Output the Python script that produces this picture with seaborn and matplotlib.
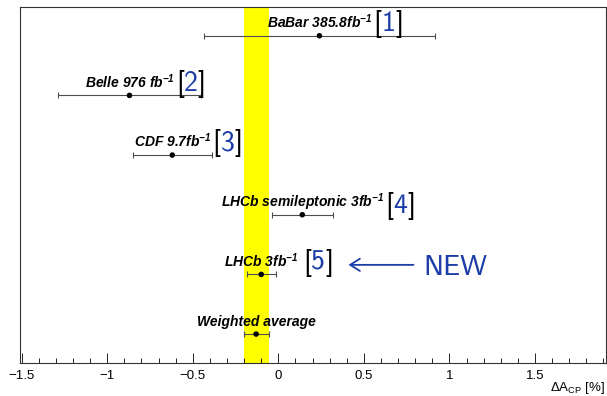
import matplotlib
matplotlib.use("Agg")
import matplotlib.pyplot as plt
from matplotlib.ticker import MultipleLocator
import seaborn as sns
import pandas as pd

# ---- data ----
labels = ["BaBar 385.8fb$^{\\mathbf{-1}}$", "Belle 976 fb$^{\\mathbf{-1}}$", "CDF 9.7fb$^{\\mathbf{-1}}$",
          "LHCb semileptonic 3fb$^{\\mathbf{-1}}$", "LHCb 3fb$^{\\mathbf{-1}}$", "Weighted average"]
refs = ["1", "2", "3", "4", "5", ""]
values = [0.24, -0.87, -0.62, 0.14, -0.10, -0.13]
errors = [0.675, 0.415, 0.23, 0.18, 0.085, 0.073]
rows = [6, 5, 4, 3, 2, 1]
tick_values = [-1.5, -1, -0.5, 0, 0.5, 1, 1.5]
tick_labels = ["\u22121.5", "\u22121", "\u22120.5", "0", "0.5", "1", "1.5"]
xlabel = "\u0394A$_{\\mathrm{CP}}$ [%]"
new_text = "NEW"

df = pd.DataFrame({"label": labels, "ref": refs, "value": values, "err": errors, "row": rows})

sns.set_theme(style="ticks")
plt.rcParams["font.family"] = ["Liberation Sans", "DejaVu Sans"]
plt.rcParams["mathtext.fontset"] = "custom"
plt.rcParams["mathtext.rm"] = "Liberation Sans"
plt.rcParams["mathtext.it"] = "Liberation Sans:italic"
plt.rcParams["mathtext.bf"] = "Liberation Sans:bold:italic"
plt.rcParams["text.color"] = "black"
plt.rcParams["axes.labelcolor"] = "black"
plt.rcParams["xtick.color"] = "black"
plt.rcParams["xtick.labelcolor"] = "black"

blue = "#1c3ca8"
ref_gaps = [1.0, 1.0, 1.0, 1.0, 3.5, 1.0]

fig = plt.figure(figsize=(6.07, 3.96), dpi=100)
ax = fig.add_axes([20 / 607, 1 - 363.3 / 396, 586 / 607, (363.3 - 6.5) / 396])

wa_v = df["value"].iloc[-1]
wa_e = df["err"].iloc[-1]
ax.axvspan(wa_v - wa_e, wa_v + wa_e, color="#ffff00", lw=0, zorder=0.5)

ax.errorbar(df["value"], df["row"], xerr=df["err"], fmt="none", ecolor="#4d4d4d",
            elinewidth=0.8, capsize=2, capthick=0.8, zorder=2)
sns.scatterplot(data=df, x="value", y="row", color="black", s=16, edgecolor="none",
                zorder=3, ax=ax, legend=False)

for i, r in df.iterrows():
    t = ax.annotate(r["label"], xy=(r["value"], r["row"]), xytext=(0, 5.5),
                    textcoords="offset points", ha="center", va="baseline",
                    fontsize=10, fontweight="bold", fontstyle="italic",
                    family="Liberation Sans", color="black", zorder=4)
    if r["ref"]:
        b1 = ax.annotate("[", xy=(1, 0), xycoords=t, xytext=(ref_gaps[i], 0),
                         textcoords="offset points", ha="left", va="baseline",
                         family="cmss10", fontsize=20, color="black")
        d = ax.annotate(r["ref"], xy=(1, 0), xycoords=(b1, t), xytext=(0, 0),
                        textcoords="offset points", ha="left", va="baseline",
                        family="cmss10", fontsize=20, color=blue)
        ax.annotate("]", xy=(1, 0), xycoords=(d, t), xytext=(0, 0),
                    textcoords="offset points", ha="left", va="baseline",
                    family="cmss10", fontsize=20, color="black")

# NEW arrow annotation
ax.annotate("", xy=(0.41, 2.16), xytext=(0.79, 2.16),
            arrowprops=dict(arrowstyle="->,head_length=0.35,head_width=0.22",
                            color=blue, lw=1.3, shrinkA=0, shrinkB=0, mutation_scale=20))
ax.text(0.845, 1.99, new_text, family="cmss10", fontsize=20.5, color=blue,
        ha="left", va="baseline")

ax.set_xlim(-1.51, 1.915)
ax.set_ylim(0.51, 6.49)
ax.set_yticks([])
ax.set_ylabel("")
ax.set_xticks(tick_values, tick_labels)
ax.xaxis.set_minor_locator(MultipleLocator(0.1))
ax.tick_params(axis="x", which="major", direction="in", length=7.2, width=0.6,
               color="black", labelsize=9.5, pad=4.5, labelcolor="black")
ax.tick_params(axis="x", which="minor", direction="in", length=3.6, width=0.6,
               color="black")
ax.tick_params(axis="x", which="both", top=False)
for s in ax.spines.values():
    s.set_visible(True)
    s.set_linewidth(0.8)
    s.set_color("#333333")

ax.set_xlabel(xlabel, fontsize=9.5, loc="right", color="black")
ax.xaxis.set_label_coords(0.998, -0.047)

fig.savefig("out.png", dpi=100)
